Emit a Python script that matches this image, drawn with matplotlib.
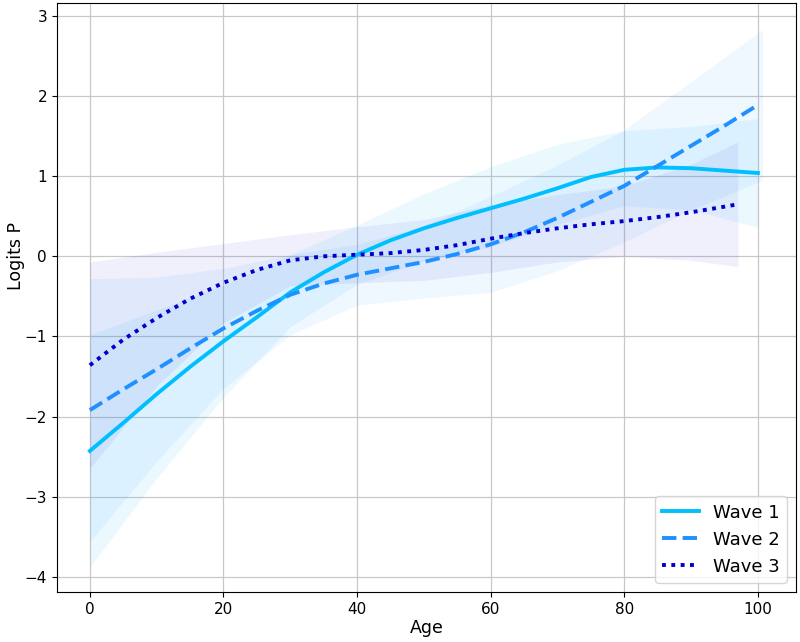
import numpy as np
import matplotlib
matplotlib.use("Agg")
import matplotlib.pyplot as plt

# ---- data ----
ages_line = [0, 5, 10, 15, 20, 25, 30, 35, 40, 45, 50, 55, 60, 65, 70, 75, 80, 85, 90, 95, 100]
ages_line3 = [0, 5, 10, 15, 20, 25, 30, 35, 40, 45, 50, 55, 60, 65, 70, 75, 80, 85, 90, 95, 97]

wave1 = [-2.43, -2.08, -1.72, -1.38, -1.06, -0.76, -0.45, -0.20, 0.02, 0.20, 0.35, 0.48, 0.60,
         0.72, 0.85, 0.99, 1.08, 1.11, 1.10, 1.07, 1.04]
wave2 = [-1.92, -1.66, -1.41, -1.15, -0.90, -0.68, -0.48, -0.34, -0.23, -0.15, -0.07, 0.03, 0.15,
         0.30, 0.48, 0.68, 0.88, 1.13, 1.38, 1.63, 1.89]
wave3 = [-1.36, -1.04, -0.77, -0.53, -0.33, -0.17, -0.05, 0.00, 0.02, 0.04, 0.08, 0.14, 0.22,
         0.29, 0.35, 0.40, 0.44, 0.49, 0.55, 0.62, 0.65]

ages_band = [0, 10, 20, 30, 40, 50, 60, 70, 80, 90, 100]
ages_band2 = [0, 10, 20, 30, 40, 50, 60, 70, 80, 90, 100.7]
ages_band3 = [0, 10, 20, 30, 40, 50, 60, 70, 80, 90, 97]

upper1 = [-0.98, -0.67, -0.36, 0.02, 0.39, 0.78, 1.12, 1.40, 1.57, 1.62, 1.72]
lower1 = [-3.88, -2.77, -1.76, -0.88, -0.35, -0.06, 0.12, 0.40, 0.63, 0.58, 0.36]
upper2 = [-0.28, -0.26, -0.15, 0.02, 0.15, 0.38, 0.75, 1.14, 1.58, 2.18, 2.83]
lower2 = [-3.56, -2.56, -1.65, -0.98, -0.61, -0.52, -0.45, -0.18, 0.18, 0.58, 0.95]
upper3 = [-0.07, 0.05, 0.16, 0.27, 0.37, 0.46, 0.64, 0.77, 0.88, 1.15, 1.43]
lower3 = [-2.65, -1.62, -0.83, -0.37, -0.33, -0.30, -0.20, -0.07, 0.00, -0.05, -0.13]

labels = ["Wave 1", "Wave 2", "Wave 3"]
colors = ["#00BFFF", "#1E90FF", "#0000CD"]

# ---- plot ----
fig = plt.figure(figsize=(8, 6.42), dpi=100)
ax = fig.add_axes([0.071, 0.078, 0.924, 0.917])

ax.fill_between(ages_band, lower1, upper1, color=colors[0], alpha=0.08, linewidth=0)
ax.fill_between(ages_band2, lower2, upper2, color=colors[1], alpha=0.07, linewidth=0)
ax.fill_between(ages_band3, lower3, upper3, color=colors[2], alpha=0.06, linewidth=0)

ax.plot(ages_line, wave1, color=colors[0], lw=2.8, ls="-", label=labels[0])
ax.plot(ages_line, wave2, color=colors[1], lw=2.8, ls=(0, (3.7, 1.6)), label=labels[1])
ax.plot(ages_line3, wave3, color=colors[2], lw=2.8, ls=(0, (1, 1.4)), label=labels[2])

ax.set_xlim(-4.95, 105.7)
ax.set_ylim(-4.19, 3.16)
ax.set_xticks([0, 20, 40, 60, 80, 100])
ax.set_yticks([-4, -3, -2, -1, 0, 1, 2, 3])
ax.set_yticklabels(["\u22124", "\u22123", "\u22122", "\u22121", "0", "1", "2", "3"])
ax.tick_params(labelsize=11)
ax.grid(True, color="#c8c8c8", linewidth=0.9)
ax.set_axisbelow(True)
ax.set_xlabel("Age", fontsize=12.5, labelpad=2)
ax.set_ylabel("Logits P", fontsize=12.5)
ax.yaxis.set_label_coords(-0.043, 0.57)

ax.legend(loc="lower right", fontsize=13)

fig.savefig("out.png", dpi=100)
